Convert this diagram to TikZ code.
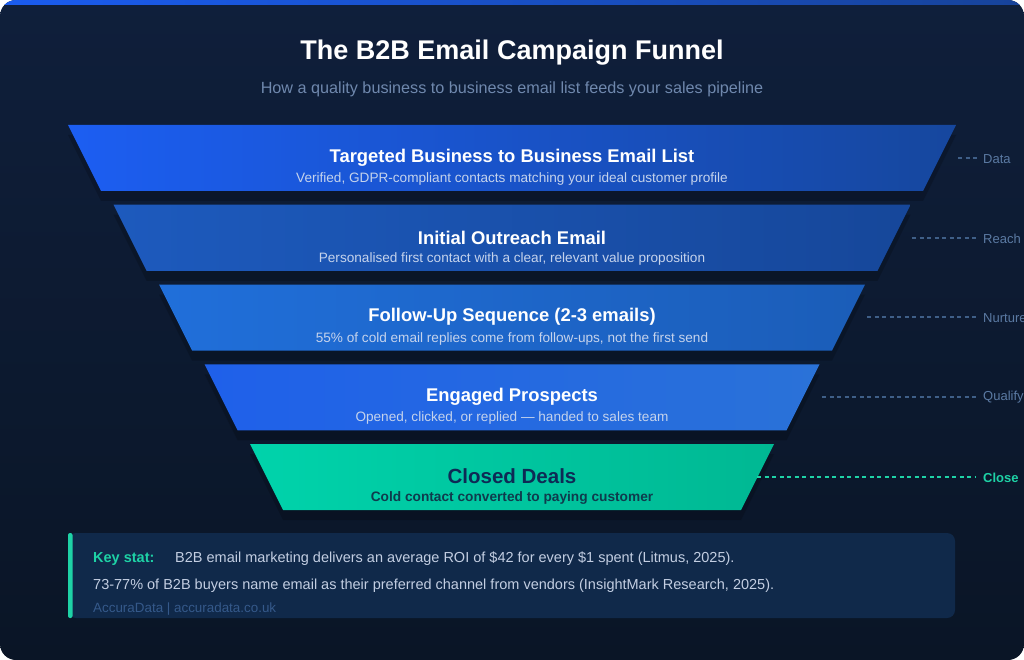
\documentclass[tikz,border=0pt]{standalone}
\usepackage{fontspec}
\setmainfont{Liberation Sans}
\definecolor{bgtop}{HTML}{0F1F3B}
\definecolor{bgbot}{HTML}{0A1526}
\definecolor{barL}{HTML}{1A5CF0}
\definecolor{barR}{HTML}{17439A}
\definecolor{subttl}{HTML}{6F88AD}
\definecolor{laysub}{HTML}{C5D3EC}
\definecolor{lblc}{HTML}{5B7AA3}
\definecolor{dashc}{HTML}{3F5F88}
\definecolor{teal}{HTML}{1ED2A6}
\definecolor{boxfill}{HTML}{10294A}
\definecolor{stattxt}{HTML}{C3CEE2}
\definecolor{footc}{HTML}{35598A}
\definecolor{closettl}{HTML}{0E2A55}
\definecolor{closesub}{HTML}{0F3B4D}
\definecolor{aL}{HTML}{1C5EF2}\definecolor{aR}{HTML}{16479E}
\definecolor{bL}{HTML}{1D5ABD}\definecolor{bR}{HTML}{16479A}
\definecolor{cL}{HTML}{206FDA}\definecolor{cR}{HTML}{1B5DB8}
\definecolor{dL}{HTML}{1F60EA}\definecolor{dR}{HTML}{2A72D8}
\definecolor{eL}{HTML}{00D3AB}\definecolor{eR}{HTML}{00B893}
\tikzset{
  laytitle/.style={text=white,font=\bfseries\fontsize{18.4}{21}\selectfont,anchor=center,inner sep=0},
  laysubtxt/.style={text=laysub,font=\fontsize{13.6}{16}\selectfont,anchor=center,inner sep=0},
  sidelbl/.style={text=lblc,font=\fontsize{13}{15}\selectfont,anchor=west,inner sep=0},
  sidedash/.style={draw=dashc,line width=1.2pt,dash pattern=on 4pt off 3.5pt},
  stattext/.style={text=stattxt,font=\fontsize{14.5}{17}\selectfont,anchor=west,inner sep=0},
}
\begin{document}
\begin{tikzpicture}[x=1pt,y=-1pt]
\useasboundingbox (0,0) rectangle (1024,660);
\fill[white] (0,0) rectangle (1024,660);
\begin{scope}
\clip[rounded corners=16pt] (0,0) rectangle (1024,660);
\shade[top color=bgtop,bottom color=bgbot] (0,0) rectangle (1024,660);
\shade[left color=barL,right color=barR] (0,0) rectangle (1024,5);
\end{scope}
% title
\node[text=white,font=\bfseries\fontsize{27}{31}\selectfont,inner sep=0] (title) at (512,53) {The B2B Email Campaign Funnel};
\node[text=subttl,font=\fontsize{16.2}{19}\selectfont,inner sep=0] (subtitle) at (512,89.5) {How a quality business to business email list feeds your sales pipeline};
% shadows
\foreach \i in {0,...,4}{
  \pgfmathsetmacro{\ty}{125+79.75*\i+10}
  \pgfmathsetmacro{\tl}{68+45.5*\i}
  \pgfmathsetmacro{\tr}{956-45.5*\i}
  \fill[black,opacity=0.18] (\tl,\ty) -- (\tr,\ty) -- (\tr-33,\ty+66) -- (\tl+33,\ty+66) -- cycle;
}
% layers
\foreach \i/\cl/\cr in {0/aL/aR,1/bL/bR,2/cL/cR,3/dL/dR,4/eL/eR}{
  \pgfmathsetmacro{\ty}{125+79.75*\i}
  \pgfmathsetmacro{\tl}{68+45.5*\i}
  \pgfmathsetmacro{\tr}{956-45.5*\i}
  \shade[left color=\cl,right color=\cr] (\tl,\ty) -- (\tr,\ty) -- (\tr-33,\ty+66) -- (\tl+33,\ty+66) -- cycle;
}
% layer texts
\node[laytitle] (t1) at (512,158) {Targeted Business to Business Email List};
\node[laysubtxt] (s1) at (512,179) {Verified, GDPR-compliant contacts matching your ideal customer profile};
\node[laytitle] (t2) at (512,237.5) {Initial Outreach Email};
\node[laysubtxt] (s2) at (512,259) {Personalised first contact with a clear, relevant value proposition};
\node[laytitle] (t3) at (512,317) {Follow-Up Sequence (2-3 emails)};
\node[laysubtxt] (s3) at (512,339) {55\% of cold email replies come from follow-ups, not the first send};
\node[laytitle] (t4) at (512,396.5) {Engaged Prospects};
\node[laysubtxt] (s4) at (512,418) {Opened, clicked, or replied — handed to sales team};
\node[laytitle,text=closettl,font=\bfseries\fontsize{20.5}{23}\selectfont] (t5) at (512,476) {Closed Deals};
\node[laysubtxt,text=closesub,font=\bfseries\fontsize{13.7}{16}\selectfont] (s5) at (512,498) {Cold contact converted to paying customer};
% side labels
\coordinate (e1) at (958,158);
\coordinate (e2) at (912,238);
\coordinate (e3) at (867,317);
\coordinate (e4) at (822,397);
\coordinate (e5) at (757,477);
\node[sidelbl] (l1) at (983,159) {Data};
\node[sidelbl] (l2) at (983,238.5) {Reach};
\node[sidelbl] (l3) at (983,318) {Nurture};
\node[sidelbl] (l4) at (983,397.5) {Qualify};
\node[sidelbl,text=teal,font=\bfseries\fontsize{13}{15}\selectfont] (l5) at (983,477.5) {Close};
\draw[sidedash] (e1) -- ([xshift=-5pt]l1.west |- e1);
\draw[sidedash] (e2) -- ([xshift=-5pt]l2.west |- e2);
\draw[sidedash] (e3) -- ([xshift=-5pt]l3.west |- e3);
\draw[sidedash] (e4) -- ([xshift=-5pt]l4.west |- e4);
\draw[sidedash,draw=teal] (e5) -- ([xshift=-7pt]l5.west |- e5);
% stat box
\fill[boxfill,rounded corners=8pt] (68,533) rectangle (955,618);
\fill[teal,rounded corners=2pt] (68,533) rectangle (72.5,618);
\node[text=teal,font=\bfseries\fontsize{14.5}{17}\selectfont,anchor=west,inner sep=0] (key) at (93,559) {Key stat:};
\node[stattext] (st1) at (175,559) {B2B email marketing delivers an average ROI of \$42 for every \$1 spent (Litmus, 2025).};
\node[stattext] (st2) at (93,586) {73-77\% of B2B buyers name email as their preferred channel from vendors (InsightMark Research, 2025).};
\node[text=footc,font=\fontsize{13.4}{16}\selectfont,anchor=west,inner sep=0] (foot) at (93,609) {AccuraData | accuradata.co.uk};
\end{tikzpicture}
\end{document}
